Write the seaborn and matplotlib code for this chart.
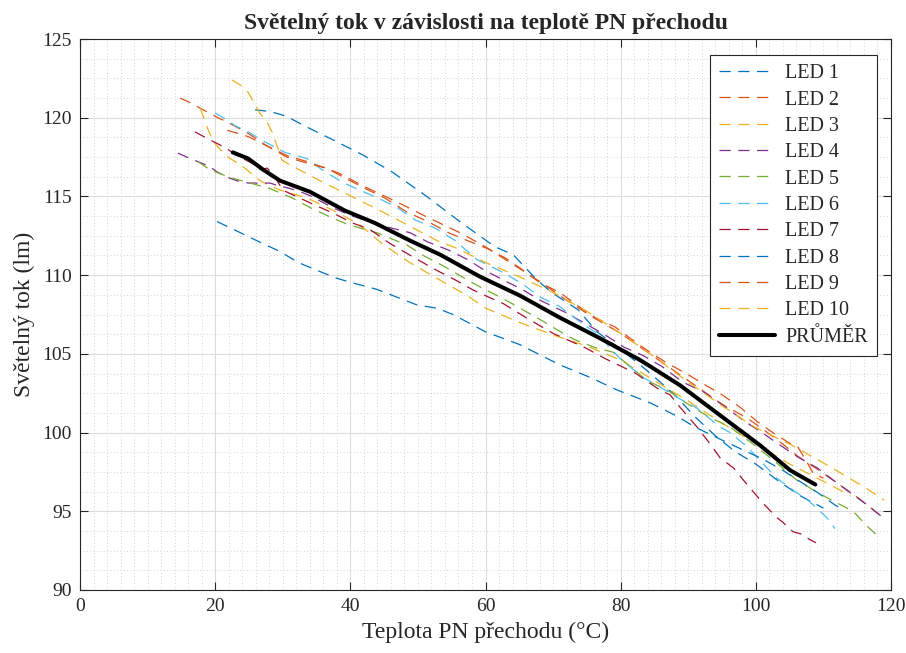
import numpy as np
import pandas as pd
import matplotlib
matplotlib.use("Agg")
import matplotlib.pyplot as plt
from matplotlib.ticker import MultipleLocator
import seaborn as sns

# Values (temperature in °C, luminous flux in lm)
led1_x = [25.9, 28.1, 30.5, 33.6, 37.4, 42.0, 46.2, 51.3, 56.2, 61.4, 64.1, 67.6, 69.8, 73.7, 76.5,
          80.0, 84.0, 88.0, 91.0, 94.0, 96.9, 100.0, 103.1, 106.5, 110.0]
led1_y = [120.5, 120.4, 120.1, 119.4, 118.6, 117.6, 116.55, 115.0, 113.4, 111.8, 111.3, 109.7, 108.9, 107.8, 106.4,
          105.3, 103.9, 102.4, 101.0, 99.8, 98.8, 98.0, 97.0, 96.0, 95.2]
led2_x = [14.8, 16.6, 17.8, 20.4, 21.9, 24.9, 27.7, 30.6, 33.7, 38.2, 42.2, 46.9, 51.3, 56.2, 60.0, 64.0,
          68.0, 72.0, 76.0, 80.0, 85.0, 90.0, 95.0, 98.8, 101.4, 103.9, 106.2, 109.0, 112.0, 115.0, 118.8]
led2_y = [121.25, 120.9, 120.6, 120.0, 119.7, 119.0, 118.2, 117.6, 117.2, 116.5, 115.6, 114.65, 113.7, 112.7, 111.8, 110.7,
          109.6, 108.4, 107.3, 106.3, 104.8, 103.3, 101.8, 100.9, 100.1, 99.3, 98.5, 97.7, 96.8, 95.9, 94.6]
led3_x = [17.8, 18.9, 19.7, 21.5, 24.1, 26.6, 29.6, 33.6, 38.0, 41.4, 44.7, 48.8, 52.8, 57.3, 60.0, 65.0,
          70.0, 75.0, 80.0, 85.0, 90.0, 95.0, 100.0, 105.0, 110.0, 114.0]
led3_y = [120.6, 119.3, 118.5, 117.6, 116.9, 116.0, 115.4, 114.9, 114.0, 113.2, 112.0, 110.8, 109.8, 108.7, 107.9, 107.0,
          106.2, 105.5, 104.6, 103.3, 102.0, 100.6, 99.3, 98.0, 96.9, 96.0]
led4_x = [14.5, 16.3, 17.5, 19.2, 20.3, 21.9, 23.2, 24.9, 26.2, 28.1, 29.2, 31.1, 32.6, 34.3, 37.3, 40.0, 44.1,
          48.8, 51.5, 54.5, 57.3, 59.9, 62.6, 65.6, 68.1, 72.0, 77.7, 80.6, 83.3, 86.1, 89.2, 92.2, 95.1, 98.4,
          100.9, 103.6, 106.2, 109.1, 111.7, 113.9, 116.5, 118.8]
led4_y = [117.75, 117.4, 117.2, 116.9, 116.55, 116.2, 116.0, 115.85, 115.85, 115.85, 115.7, 115.5, 115.3, 115.0, 114.3, 113.8, 113.2,
          112.7, 112.1, 111.6, 111.0, 110.3, 109.7, 109.05, 108.4, 107.6, 106.2, 105.4, 104.9, 104.2, 103.2, 102.6, 101.75, 100.7,
          100.0, 99.2, 98.45, 97.75, 96.9, 96.2, 95.4, 94.6]
led5_x = [17.5, 19.2, 20.4, 22.2, 25.2, 28.1, 31.4, 34.0, 37.0, 39.7, 43.9, 48.4, 51.0, 53.7, 56.5, 59.2, 62.2,
          64.7, 68.0, 71.5, 73.2, 76.2, 78.9, 81.4, 83.9, 86.9, 90.0, 93.0, 96.2, 99.5, 103.0, 106.0, 109.1,
          111.7, 114.4, 116.6, 117.9]
led5_y = [117.2, 116.7, 116.5, 116.2, 115.85, 115.5, 114.9, 114.3, 113.7, 113.2, 112.7, 111.9, 111.2, 110.6, 109.9, 109.25, 108.6,
          108.0, 107.2, 106.3, 105.9, 105.4, 105.1, 104.2, 103.3, 102.7, 101.8, 101.0, 100.35, 99.3, 98.1, 97.0, 96.2,
          95.6, 95.0, 94.0, 93.5]
led6_x = [20.0, 21.8, 22.9, 24.9, 27.4, 30.3, 33.6, 35.8, 38.8, 41.4, 44.1, 46.9, 49.6, 52.5, 55.5, 58.7, 62.9,
          65.6, 68.1, 71.0, 74.7, 76.5, 79.9, 83.3, 85.8, 88.3, 91.3, 94.7, 96.2, 98.7, 100.9, 103.1, 105.5,
          108.0, 110.5, 111.7]
led6_y = [120.3, 119.85, 119.5, 119.1, 118.45, 117.8, 117.4, 116.7, 115.9, 115.4, 114.9, 114.3, 113.5, 113.0, 112.2, 111.0, 110.1,
          109.4, 108.6, 108.0, 106.8, 106.3, 104.7, 103.5, 102.9, 102.25, 101.55, 100.35, 100.0, 99.1, 98.1, 97.1, 96.35,
          95.6, 94.6, 93.9]
led7_x = [17.0, 19.2, 21.5, 23.2, 25.5, 26.6, 27.7, 28.9, 30.0, 31.5, 34.5, 37.4, 40.4, 42.9, 45.9, 49.9, 52.8,
          55.5, 58.2, 61.0, 62.6, 66.0, 70.0, 74.7, 77.7, 80.6, 82.1, 85.8, 87.3, 88.8, 91.3, 93.2, 94.7, 96.7,
          98.7, 101.1, 103.1, 104.0, 105.5, 106.8, 108.0, 108.9]
led7_y = [119.1, 118.6, 118.1, 117.6, 117.1, 116.7, 116.8, 116.2, 115.4, 115.1, 114.5, 113.95, 113.3, 112.9, 112.0, 111.0, 110.3,
          109.7, 109.05, 108.5, 108.2, 107.3, 106.3, 105.4, 104.7, 104.1, 103.8, 102.7, 102.4, 101.6, 100.35, 99.3, 98.4, 97.75,
          96.7, 95.5, 94.6, 94.3, 93.7, 93.55, 93.2, 93.0]
led8_x = [20.3, 23.7, 26.6, 29.6, 32.3, 35.1, 38.0, 40.4, 43.9, 46.9, 49.9, 52.8, 55.2, 60.0, 65.0, 71.0,
          75.5, 79.5, 84.3, 88.3, 91.0, 95.1, 98.1, 101.1, 104.0, 106.5, 109.1, 111.7, 113.0]
led8_y = [113.4, 112.7, 112.1, 111.5, 110.8, 110.3, 109.8, 109.5, 109.1, 108.6, 108.1, 107.9, 107.5, 106.4, 105.6, 104.3,
          103.5, 102.7, 101.9, 101.05, 100.35, 99.5, 98.9, 98.3, 97.6, 96.9, 96.2, 95.4, 95.1]
led9_x = [21.8, 23.4, 24.9, 27.7, 30.6, 33.7, 36.5, 38.2, 42.2, 45.1, 48.4, 51.5, 54.5, 57.3, 60.2, 62.9, 65.6,
          68.1, 71.0, 73.5, 76.2, 79.2, 81.7, 84.0, 86.9, 89.5, 92.2, 95.0, 97.7, 100.2, 102.5, 105.1, 106.2,
          107.6, 108.5, 110.0]
led9_y = [119.2, 119.0, 118.8, 118.2, 117.5, 117.1, 116.8, 116.4, 115.5, 114.9, 114.0, 113.4, 112.7, 112.2, 111.7, 111.1, 110.3,
          109.5, 108.9, 108.1, 107.3, 106.7, 105.9, 105.2, 104.4, 103.8, 103.1, 102.4, 101.6, 100.7, 100.0, 99.3, 99.1,
          98.1, 97.4, 97.1]
led10_x = [22.5, 24.0, 24.9, 26.6, 27.7, 28.4, 29.9, 31.1, 35.5, 39.7, 44.4, 48.4, 52.8, 55.8, 60.0, 65.0,
           70.0, 75.0, 80.0, 85.0, 90.0, 95.0, 100.0, 105.3, 110.7, 116.2, 119.0]
led10_y = [122.4, 122.0, 121.6, 120.3, 119.7, 119.1, 117.3, 117.0, 116.0, 115.1, 114.1, 113.2, 112.2, 111.7, 110.8, 109.9,
           108.9, 107.7, 106.3, 104.8, 103.2, 101.7, 100.3, 99.2, 97.9, 96.5, 95.7]
mean_x = [22.6, 24.9, 27.1, 29.6, 34.0, 39.2, 43.7, 48.8, 53.3, 59.2, 65.1, 71.0, 76.9, 82.9, 88.8, 94.7,
          100.6, 105.1, 108.8]
mean_y = [117.8, 117.4, 116.7, 116.0, 115.3, 114.1, 113.3, 112.2, 111.3, 109.9, 108.7, 107.3, 106.0, 104.6, 103.0, 101.1,
          99.2, 97.6, 96.7]

led_x = [led1_x, led2_x, led3_x, led4_x, led5_x, led6_x, led7_x, led8_x, led9_x, led10_x]
led_y = [led1_y, led2_y, led3_y, led4_y, led5_y, led6_y, led7_y, led8_y, led9_y, led10_y]
labels = ["LED %d" % (i + 1) for i in range(10)]

# MATLAB default colour order (repeats after 7)
matlab_colors = ["#0072BD", "#D95319", "#EDB120", "#7E2F8E", "#77AC30", "#4DBEEE", "#A2142F"]

sns.set_style("ticks")
plt.rcParams["font.family"] = ["Liberation Serif", "DejaVu Serif"]
plt.rcParams["axes.edgecolor"] = "#262626"
plt.rcParams["axes.linewidth"] = 0.8

fig = plt.figure(figsize=(9.06, 6.53), dpi=100)
ax = fig.add_axes([80 / 906, 1 - 590 / 653, 811 / 906, 551 / 653])

for i in range(10):
    sns.lineplot(x=led_x[i], y=led_y[i], ax=ax, color=matlab_colors[i % 7], linewidth=0.9,
                 linestyle=(0, (9, 6)), sort=False, estimator=None, label=labels[i])
sns.lineplot(x=mean_x, y=mean_y, ax=ax, color="black", linewidth=2.9, sort=False,
             estimator=None, label="PRŮMĚR")

ax.set_xlim(0, 120)
ax.set_ylim(90, 125)
ax.set_xticks(range(0, 121, 20))
ax.set_yticks(range(90, 126, 5))
ax.xaxis.set_minor_locator(MultipleLocator(2))
ax.yaxis.set_minor_locator(MultipleLocator(1.25))
ax.grid(which="major", color="#dcdcdc", linewidth=0.8, linestyle="-")
ax.grid(which="minor", color="#c4c4c4", linewidth=0.6, linestyle=(0, (1, 3)))
ax.set_axisbelow(True)
for s in ax.spines.values():
    s.set_visible(True)
ax.tick_params(which="major", direction="in", length=6, width=0.8, top=True, right=True,
               labelsize=14, pad=6, colors="#262626", labelcolor="#262626")
ax.tick_params(which="minor", length=0)

ax.set_title("Světelný tok v závislosti na teplotě PN přechodu", fontsize=17, fontweight="bold", pad=7)
ax.set_xlabel("Teplota PN přechodu (°C)", fontsize=17, labelpad=5)
ax.set_ylabel("Světelný tok (lm)", fontsize=17, labelpad=5)

leg = ax.legend(loc="upper right", bbox_to_anchor=(797 / 811, 535 / 551), borderaxespad=0,
                fontsize=14.5, handlelength=2.8, labelspacing=0.36, fancybox=False, framealpha=1,
                edgecolor="#262626", borderpad=0.45, handletextpad=0.5)
leg.get_frame().set_linewidth(0.8)

fig.savefig("out.png", dpi=100)
